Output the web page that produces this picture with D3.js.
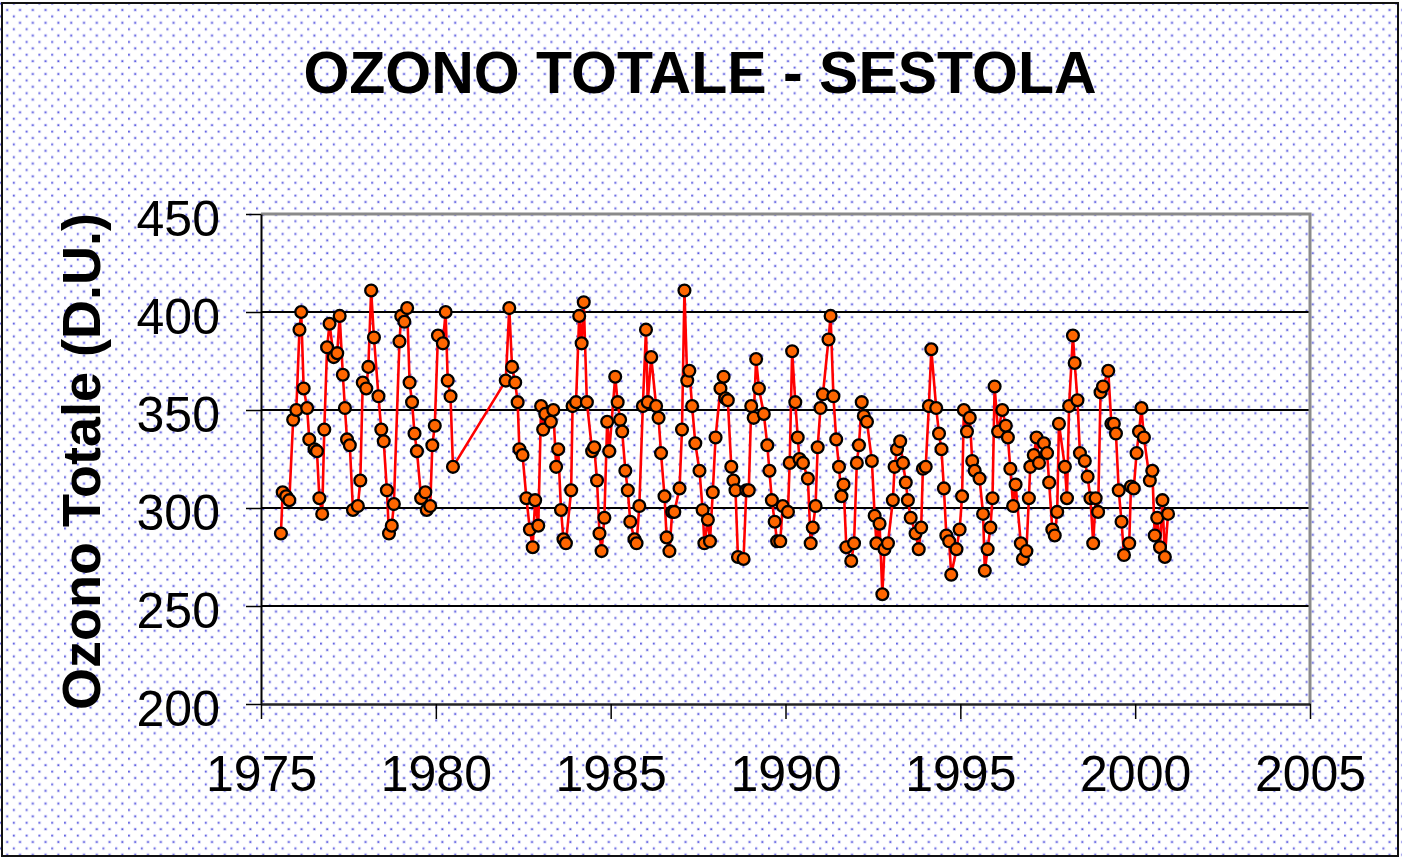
<!DOCTYPE html>
<html><head><meta charset="utf-8">
<script src="https://cdn.jsdelivr.net/npm/d3@7"></script>
<style>html,body{margin:0;padding:0;background:#fff;overflow:hidden;} svg{display:block;}</style>
</head><body>
<svg id="chart" width="1402" height="858"></svg>
<script>
const title = "OZONO TOTALE - SESTOLA";
const yLabel = "Ozono Totale (D.U.)";
const xTicks = [1975, 1980, 1985, 1990, 1995, 2000, 2005];
const yTicks = [200, 250, 300, 350, 400, 450];

const years = [
1975.57,1975.62,1975.72,1975.81,1975.92,1976.01,1976.10,1976.15,1976.22,1976.32,
1976.38,1976.53,1976.60,1976.67,1976.75,1976.81,1976.89,1976.96,1977.08,1977.18,
1977.25,1977.34,1977.40,1977.46,1977.54,1977.63,1977.77,1977.84,1977.91,1978.01,
1978.07,1978.15,1978.23,1978.36,1978.44,1978.51,1978.60,1978.66,1978.74,1978.80,
1978.96,1979.01,1979.10,1979.18,1979.25,1979.32,1979.39,1979.46,1979.58,1979.70,
1979.74,1979.84,1979.90,1979.97,1980.06,1980.20,1980.28,1980.34,1980.42,1980.49,
1982.00,1982.10,1982.18,1982.27,1982.34,1982.39,1982.48,1982.59,1982.69,1982.77,
1982.84,1982.93,1983.01,1983.07,1983.13,1983.29,1983.36,1983.44,1983.50,1983.58,
1983.65,1983.72,1983.87,1983.91,1984.01,1984.10,1984.17,1984.23,1984.32,1984.47,
1984.53,1984.61,1984.68,1984.74,1984.82,1984.90,1984.96,1985.13,1985.20,1985.27,
1985.33,1985.42,1985.49,1985.56,1985.68,1985.74,1985.82,1985.92,1986.01,1986.06,
1986.16,1986.30,1986.37,1986.44,1986.54,1986.60,1986.68,1986.76,1986.82,1986.97,
1987.04,1987.11,1987.19,1987.25,1987.33,1987.42,1987.54,1987.63,1987.68,1987.78,
1987.84,1987.92,1988.00,1988.14,1988.23,1988.28,1988.35,1988.45,1988.51,1988.57,
1988.64,1988.80,1988.88,1988.95,1989.02,1989.09,1989.16,1989.24,1989.38,1989.48,
1989.54,1989.61,1989.69,1989.76,1989.85,1989.92,1990.07,1990.12,1990.19,1990.28,
1990.35,1990.40,1990.50,1990.64,1990.72,1990.78,1990.86,1990.92,1991.00,1991.07,
1991.23,1991.29,1991.37,1991.45,1991.53,1991.60,1991.66,1991.74,1991.88,1991.96,
1992.04,1992.10,1992.18,1992.24,1992.33,1992.47,1992.55,1992.60,1992.69,1992.77,
1992.83,1992.93,1993.07,1993.12,1993.19,1993.28,1993.36,1993.44,1993.50,1993.58,
1993.72,1993.81,1993.88,1993.93,1994.01,1994.10,1994.17,1994.31,1994.39,1994.46,
1994.53,1994.60,1994.68,1994.74,1994.89,1994.98,1995.05,1995.10,1995.19,1995.27,
1995.34,1995.41,1995.55,1995.65,1995.70,1995.78,1995.86,1995.92,1995.98,1996.08,
1996.20,1996.30,1996.36,1996.43,1996.51,1996.58,1996.73,1996.79,1996.89,1996.96,
1997.00,1997.10,1997.18,1997.25,1997.39,1997.48,1997.54,1997.63,1997.70,1997.77,
1997.82,1997.99,1998.05,1998.11,1998.22,1998.27,1998.35,1998.42,1998.56,1998.64,
1998.72,1998.80,1998.87,1998.94,1999.01,1999.08,1999.23,1999.32,1999.39,1999.45,
1999.53,1999.61,1999.68,1999.83,1999.88,1999.96,2000.04,2000.11,2000.18,2000.25,
2000.42,2000.49,2000.56,2000.63,2000.71,2000.78,2000.85,2000.94
];

const ozone = [
287,308,306,304,345,350,391,400,361,351,
335,330,329,305,297,340,382,394,377,379,
398,368,351,335,332,299,301,314,364,361,
372,411,387,357,340,334,309,287,291,302,
385,398,395,402,364,354,338,329,305,308,
299,301,332,342,388,384,400,365,357,321,
365,402,372,364,354,330,327,305,289,280,
304,291,352,340,348,344,350,321,330,299,
284,282,309,352,354,398,384,405,354,329,
331,314,287,278,295,344,329,367,354,345,
339,319,309,293,284,282,301,352,391,354,
377,352,346,328,306,285,278,298,298,310,
340,411,365,370,352,333,319,299,282,294,
283,308,336,361,367,356,355,321,314,309,
275,274,309,309,352,346,376,361,348,332,
319,304,293,283,283,301,298,323,380,354,
336,325,323,315,282,290,301,331,351,358,
386,398,357,335,321,306,312,280,273,282,
323,332,354,347,344,324,296,282,292,256,
279,282,304,321,330,334,323,313,304,295,
287,279,290,320,321,352,381,351,338,330,
310,286,283,266,279,289,306,350,339,346,
324,319,315,297,268,279,290,305,362,339,
350,342,336,320,301,312,282,274,278,305,
321,327,336,323,333,328,313,289,286,298,
343,321,305,352,388,374,355,328,324,316,
305,282,305,298,359,362,370,343,343,338,
309,293,276,282,311,310,328,339,351,336,
314,319,286,295,280,304,275,297
];

const data = years.map((y, i) => ({ year: y, value: ozone[i] }));

const W = 1402, H = 858;
const FONT = "'Liberation Sans', Arial, Helvetica, sans-serif";
const svg = d3.select("#chart");

// dotted background pattern
const defs = svg.append("defs");
const pat = defs.append("pattern").attr("id", "dots")
  .attr("patternUnits", "userSpaceOnUse").attr("width", 12.8).attr("height", 12.8);
[[7.2, 10.0], [0.9, 3.6]].forEach(([cx, cy]) => {
  pat.append("rect").attr("x", cx - 1.5).attr("y", cy - 1.5).attr("width", 3).attr("height", 3).attr("fill", "#d4d4f6");
  pat.append("rect").attr("x", cx - 0.8).attr("y", cy - 0.8).attr("width", 1.6).attr("height", 1.6).attr("fill", "#5050e0");
});

svg.append("rect").attr("width", W).attr("height", H).attr("fill", "#fff");
svg.append("rect").attr("width", W).attr("height", H).attr("fill", "url(#dots)");
svg.append("rect").attr("x", 2).attr("y", 3).attr("width", 1396).attr("height", 853)
  .attr("fill", "none").attr("stroke", "#111").attr("stroke-width", 2);

const x = d3.scaleLinear().domain([1975, 2005]).range([261, 1310]);
const y = d3.scaleLinear().domain([200, 450]).range([704, 214]);

// gridlines
svg.append("g").selectAll("line").data(yTicks.filter(v => v > 200 && v < 450)).join("line")
  .attr("x1", x(1975)).attr("x2", x(2005)).attr("y1", d => y(d)).attr("y2", d => y(d))
  .attr("stroke", "#000").attr("stroke-width", 1.8);

// plot border top/right (gray)
svg.append("path")
  .attr("d", `M${x(1975)},${y(450)}H${x(2005)}V${y(200)}`)
  .attr("fill", "none").attr("stroke", "#8a8a8a").attr("stroke-width", 3);

// Y axis
const yAxis = svg.append("g").attr("transform", `translate(${x(1975)},0)`)
  .call(d3.axisLeft(y).tickValues(yTicks).tickSize(15).tickSizeOuter(0).tickPadding(26));
yAxis.select(".domain").attr("stroke", "#000").attr("stroke-width", 2);
yAxis.selectAll(".tick line").attr("stroke", "#000").attr("stroke-width", 1.5);
yAxis.selectAll(".tick text").attr("font-family", FONT).attr("font-size", 50)
  .attr("fill", "#000").attr("dy", "0.43em");

// X axis
const xAxis = svg.append("g").attr("transform", `translate(0,${y(200)})`)
  .call(d3.axisBottom(x).tickValues(xTicks).tickFormat(d3.format("d")).tickSize(15).tickSizeOuter(0).tickPadding(36));
xAxis.select(".domain").attr("stroke", "#222").attr("stroke-width", 2.5);
xAxis.selectAll(".tick line").attr("stroke", "#000").attr("stroke-width", 1.5);
xAxis.selectAll(".tick text").attr("font-family", FONT).attr("font-size", 50).attr("fill", "#000");

// line
const line = d3.line().x(d => x(d.year)).y(d => y(d.value)).curve(d3.curveLinear);
svg.append("path").datum(data).attr("d", line)
  .attr("fill", "none").attr("stroke", "#ff0000").attr("stroke-width", 2.6)
  .attr("stroke-linejoin", "round");

// markers
svg.append("g").selectAll("circle").data(data).join("circle")
  .attr("cx", d => x(d.year)).attr("cy", d => y(d.value)).attr("r", 5.9)
  .attr("fill", "#ff6600").attr("stroke", "#000").attr("stroke-width", 2.3);

// title
svg.append("text").attr("x", 700).attr("y", 93).attr("text-anchor", "middle")
  .attr("font-family", FONT).attr("font-weight", "bold").attr("font-size", 59)
  .attr("fill", "#000").text(title);

// y label
svg.append("text").attr("transform", `translate(100,${(213 + 710) / 2}) rotate(-90)`)
  .attr("text-anchor", "middle").attr("font-family", FONT).attr("font-weight", "bold")
  .attr("font-size", 54).attr("fill", "#000").text(yLabel);
</script>
</body></html>
